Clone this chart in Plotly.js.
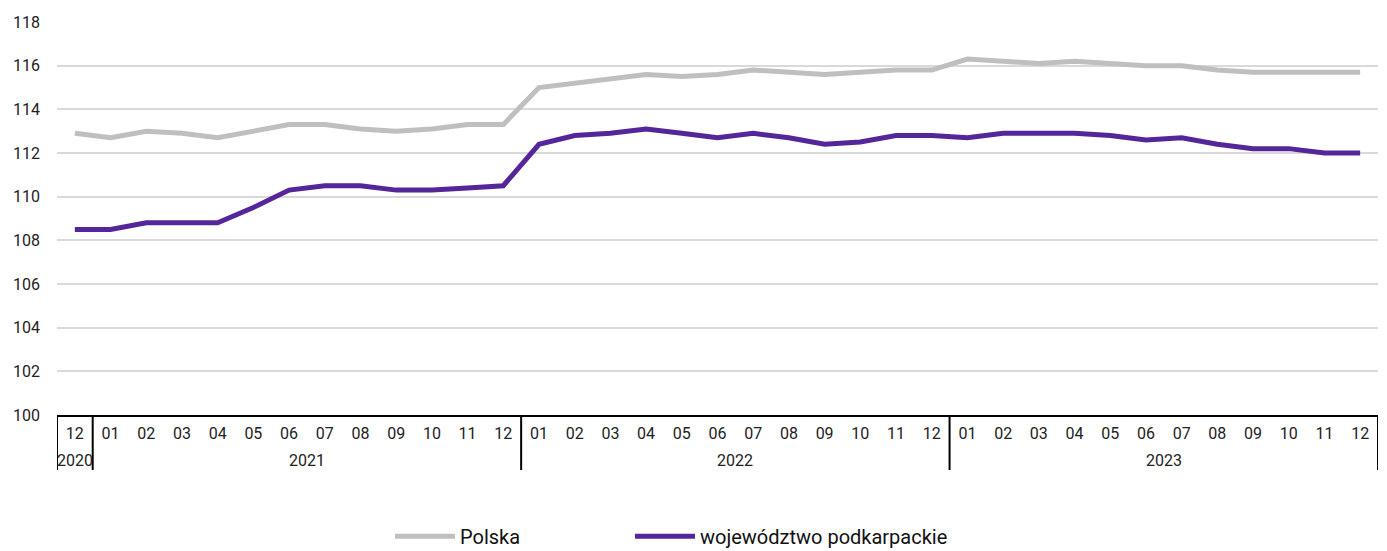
<!DOCTYPE html>
<html>
<head>
<meta charset="utf-8">
<script src="https://cdn.plot.ly/plotly-3.0.1.min.js"></script>
<style>html,body{margin:0;padding:0;background:#fff}#chart{width:1387px;height:551px}</style>
</head>
<body>
<div id="chart"></div>
<script>
const years = ["2020","2021","2021","2021","2021","2021","2021","2021","2021","2021","2021","2021","2021",
  "2022","2022","2022","2022","2022","2022","2022","2022","2022","2022","2022","2022",
  "2023","2023","2023","2023","2023","2023","2023","2023","2023","2023","2023","2023"];
const months = ["12","01","02","03","04","05","06","07","08","09","10","11","12",
  "01","02","03","04","05","06","07","08","09","10","11","12",
  "01","02","03","04","05","06","07","08","09","10","11","12"];
const polska = [112.9,112.7,113.0,112.9,112.7,113.0,113.3,113.3,113.1,113.0,113.1,113.3,113.3,
  115.0,115.2,115.4,115.6,115.5,115.6,115.8,115.7,115.6,115.7,115.8,115.8,
  116.3,116.2,116.1,116.2,116.1,116.0,116.0,115.8,115.7,115.7,115.7,115.7];
const podkarpackie = [108.5,108.5,108.8,108.8,108.8,109.5,110.3,110.5,110.5,110.3,110.3,110.4,110.5,
  112.4,112.8,112.9,113.1,112.9,112.7,112.9,112.7,112.4,112.5,112.8,112.8,
  112.7,112.9,112.9,112.9,112.8,112.6,112.7,112.4,112.2,112.2,112.0,112.0];
const seriesNames = ["Polska","województwo podkarpackie"];

const FONT = "Roboto, 'Liberation Sans', sans-serif";
const idx = months.map((_, i) => i);

// year groups built from the years array
const groups = [];
years.forEach((y, i) => {
  if (!groups.length || groups[groups.length - 1].year !== y) groups.push({year: y, start: i, end: i});
  else groups[groups.length - 1].end = i;
});

const SEP_BOTTOM = -0.14;
const shapes = [];
groups.forEach((g, k) => {
  shapes.push({type:'line', xref:'x', yref:'paper', x0:g.start - 0.5, x1:g.start - 0.5,
    y0:0, y1:SEP_BOTTOM, line:{color:'#000', width:2}});
  if (k === groups.length - 1)
    shapes.push({type:'line', xref:'x', yref:'paper', x0:g.end + 0.5, x1:g.end + 0.5,
      y0:0, y1:SEP_BOTTOM, line:{color:'#000', width:2}});
});
const annotations = groups.map(g => ({
  xref:'x', yref:'paper', x:(g.start + g.end) / 2, y:-0.115, yanchor:'middle',
  text:g.year, showarrow:false, font:{family:FONT, size:16, color:'#222'}
}));

const traces = [
  {x:idx, y:polska, name:seriesNames[0], type:'scatter', mode:'lines',
   line:{color:'#bfbfbf', width:5}, legend:'legend'},
  {x:idx, y:podkarpackie, name:seriesNames[1], type:'scatter', mode:'lines',
   line:{color:'#55259a', width:5}, legend:'legend2'}
];

const legendBase = {orientation:'h', xref:'paper', yref:'container', y:0.062, yanchor:'top',
  xanchor:'left', font:{family:FONT, size:20, color:'#111'}, itemwidth:60,
  bgcolor:'rgba(0,0,0,0)'};

const layout = {
  width:1387, height:551,
  margin:{l:57, r:9, t:22, b:136},
  paper_bgcolor:'#fff', plot_bgcolor:'#fff',
  font:{family:FONT, size:16, color:'#222'},
  showlegend:true,
  legend:Object.assign({}, legendBase, {x:(390 - 57) / 1321}),
  legend2:Object.assign({}, legendBase, {x:(630 - 57) / 1321}),
  shapes:shapes,
  annotations:annotations,
  xaxis:{range:[-0.5, idx.length - 0.5], tickvals:idx, ticktext:months,
    showline:true, linecolor:'#000', linewidth:2,
    showgrid:false, zeroline:false, ticks:'', ticklabelstandoff:3, automargin:false,
    tickfont:{family:FONT, size:16, color:'#222'}, fixedrange:true},
  yaxis:{range:[100,118], dtick:2, tick0:100, showgrid:true, gridcolor:'#d9d9d9', gridwidth:2,
    zeroline:false, showline:false, ticks:'', ticklabelstandoff:16, automargin:false,
    tickfont:{family:FONT, size:16, color:'#222'}, fixedrange:true}
};

Plotly.newPlot('chart', traces, layout, {displayModeBar:false, staticPlot:true});
</script>
</body>
</html>
